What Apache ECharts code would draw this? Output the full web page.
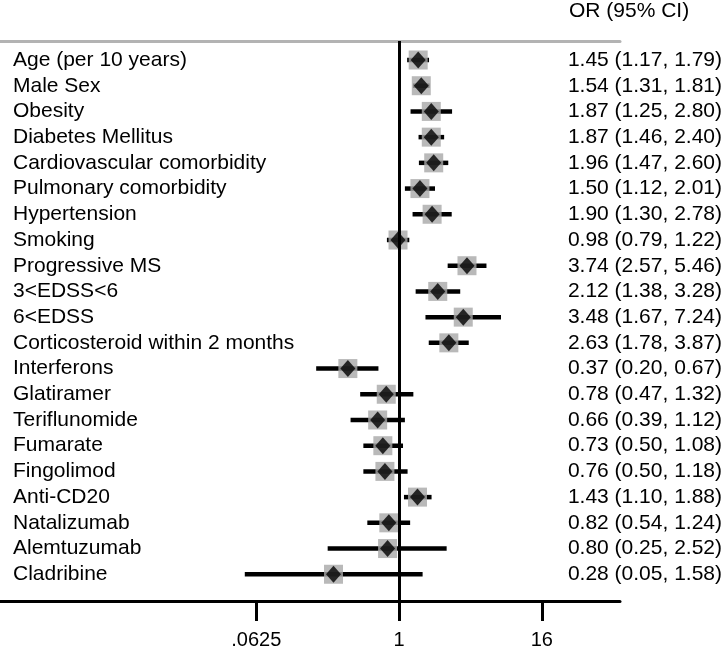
<!DOCTYPE html>
<html>
<head>
<meta charset="utf-8">
<script src="https://cdn.jsdelivr.net/npm/echarts@6/dist/echarts.min.js"></script>
<style>html,body{margin:0;padding:0;background:#fff;}#c{width:725px;height:650px;}</style>
</head>
<body>
<div id="c"></div>
<script>
var names = ['Age (per 10 years)','Male Sex','Obesity','Diabetes Mellitus','Cardiovascular comorbidity','Pulmonary comorbidity','Hypertension','Smoking','Progressive MS','3<EDSS<6','6<EDSS','Corticosteroid within 2 months','Interferons','Glatiramer','Teriflunomide','Fumarate','Fingolimod','Anti-CD20','Natalizumab','Alemtuzumab','Cladribine'];
var orValues = [1.45,1.54,1.87,1.87,1.96,1.50,1.90,0.98,3.74,2.12,3.48,2.63,0.37,0.78,0.66,0.73,0.76,1.43,0.82,0.80,0.28];
var ciLow  = [1.17,1.31,1.25,1.46,1.47,1.12,1.30,0.79,2.57,1.38,1.67,1.78,0.20,0.47,0.39,0.50,0.50,1.10,0.54,0.25,0.05];
var ciHigh = [1.79,1.81,2.80,2.40,2.60,2.01,2.78,1.22,5.46,3.28,7.24,3.87,0.67,1.32,1.12,1.08,1.18,1.88,1.24,2.52,1.58];
var tickValues = [0.0625, 1, 16];
var tickLabels = ['.0625', '1', '16'];

var FONT = '"Liberation Sans", Arial, Helvetica, sans-serif';
function fmt(v){ return v.toFixed(2); }
var ciText = orValues.map(function(v,i){ return fmt(v)+' ('+fmt(ciLow[i])+', '+fmt(ciHigh[i])+')'; });
var rowIdx = names.map(function(_,i){ return i; });
var l2 = function(v){ return Math.log2(v); };
var tickLog = tickValues.map(l2);

var squareData = orValues.map(function(v,i){ return [l2(v), i]; });
var ciData = orValues.map(function(v,i){ return [i, l2(ciLow[i]), l2(ciHigh[i])]; });

var XMIN = -11.18, XMAX = 6.19, YMIN = -0.739, YMAX = 21.04;

var chart = echarts.init(document.getElementById('c'), null, {renderer:'canvas'});
chart.setOption({
  animation: false,
  backgroundColor: '#fff',
  textStyle: {fontFamily: FONT},
  title: {
    text: 'OR (95% CI)', left: 569, top: 1, padding: 0,
    textStyle: {fontFamily: FONT, fontSize: 21, fontWeight: 'normal', color: '#000'}
  },
  grid: {left: 0, right: 105, top: 41, bottom: 49, containLabel: false},
  xAxis: [{
    type: 'value', position: 'bottom', min: XMIN, max: XMAX,
    axisLine: {show: true, onZero: false, lineStyle: {color: '#000', width: 3}},
    axisTick: {show: true, length: 20, lineStyle: {color: '#000', width: 3}, customValues: tickLog},
    axisLabel: {show: true, customValues: tickLog, margin: 29, fontSize: 20, color: '#000', fontFamily: FONT,
      formatter: function(v){ var k = -1; for (var j=0;j<tickLog.length;j++){ if (Math.abs(tickLog[j]-v)<1e-6) k=j; } return k>=0 ? tickLabels[k] : ''; }},
    splitLine: {show: false}
  }, {
    type: 'value', position: 'top', min: XMIN, max: XMAX,
    axisLine: {show: true, onZero: false, lineStyle: {color: '#b3b3b3', width: 3}},
    axisTick: {show: false}, axisLabel: {show: false}, splitLine: {show: false}
  }],
  yAxis: [{
    type: 'value', position: 'left', inverse: true, min: YMIN, max: YMAX,
    axisLine: {show: false, onZero: false}, axisTick: {show: false}, splitLine: {show: false},
    axisLabel: {show: true, inside: true, margin: 13, customValues: rowIdx, fontSize: 21, color: '#000', fontFamily: FONT,
      formatter: function(v){ return names[Math.round(v)]; }}
  }, {
    type: 'value', position: 'right', inverse: true, min: YMIN, max: YMAX,
    axisLine: {show: false, onZero: false}, axisTick: {show: false}, splitLine: {show: false},
    axisLabel: {show: true, margin: 102, align: 'right', customValues: rowIdx, fontSize: 21, color: '#000', fontFamily: FONT,
      formatter: function(v){ return ciText[Math.round(v)]; }}
  }],
  series: [{
    type: 'scatter', name: 'weight', xAxisIndex: 0, yAxisIndex: 0,
    symbol: 'rect', symbolSize: 19, itemStyle: {color: '#a8a8a8'},
    data: squareData, silent: true
  }, {
    type: 'custom', name: 'ci', xAxisIndex: 0, yAxisIndex: 0,
    encode: {x: [1, 2], y: 0},
    renderItem: function(params, api){
      var i = api.value(0);
      var p1 = api.coord([api.value(1), i]);
      var p2 = api.coord([api.value(2), i]);
      return {type: 'line', shape: {x1: p1[0], y1: p1[1], x2: p2[0], y2: p2[1]}, style: {stroke: '#000', lineWidth: 4.5}};
    },
    data: ciData, silent: true,
    markLine: {silent: true, symbol: 'none', label: {show: false},
      lineStyle: {color: '#000', width: 3, type: 'solid'}, data: [{xAxis: 0}]}
  }, {
    type: 'scatter', name: 'or', xAxisIndex: 0, yAxisIndex: 0,
    symbol: 'diamond', symbolSize: [15, 17], itemStyle: {color: '#000'},
    data: squareData, silent: true
  }]
});
</script>
</body>
</html>
